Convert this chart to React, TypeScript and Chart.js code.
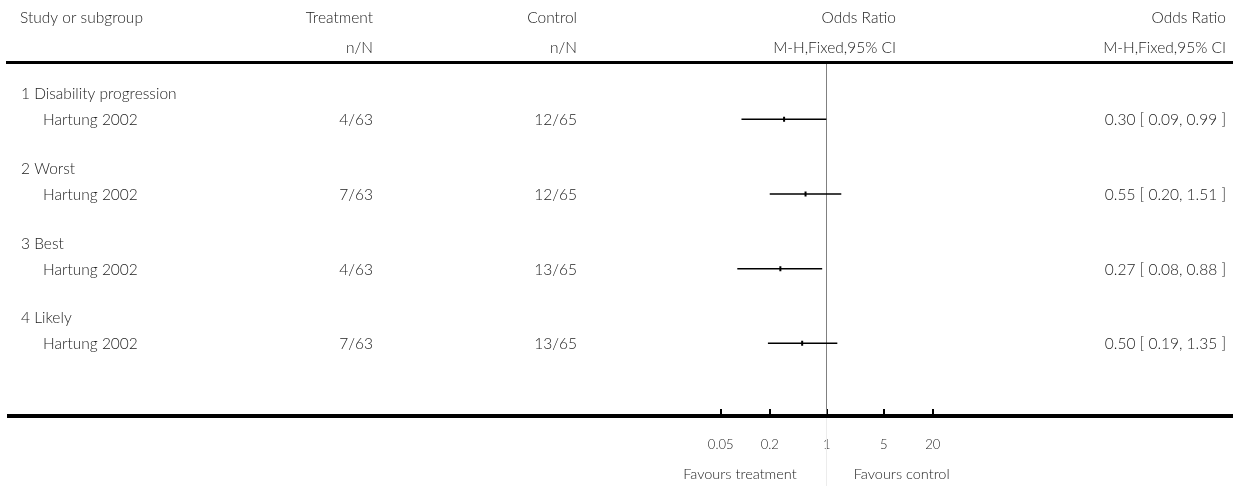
import React, { useEffect, useRef } from 'react';
import { Chart, registerables } from 'chart.js';

Chart.register(...registerables);

// ---- Data ----
const groupLabels = ['1 Disability progression', '2 Worst', '3 Best', '4 Likely'];
const studyNames = ['Hartung 2002', 'Hartung 2002', 'Hartung 2002', 'Hartung 2002'];
const treatmentCounts = ['4/63', '7/63', '4/63', '7/63'];
const controlCounts = ['12/65', '12/65', '13/65', '13/65'];
const oddsRatio = [0.3, 0.55, 0.27, 0.5];
const ciLower = [0.09, 0.2, 0.08, 0.19];
const ciUpper = [0.99, 1.51, 0.88, 1.35];
const tickValues = [0.05, 0.2, 1, 5, 20];
const tickLabels = ['0.05', '0.2', '1', '5', '20'];
const nullValue = 1;
const headerLeft = 'Study or subgroup';
const headerTreatment = ['Treatment', 'n/N'];
const headerControl = ['Control', 'n/N'];
const headerPlot = ['Odds Ratio', 'M-H,Fixed,95% CI'];
const headerEffect = ['Odds Ratio', 'M-H,Fixed,95% CI'];
const favoursLeft = 'Favours treatment';
const favoursRight = 'Favours control';

const FONT = 'Lato, "Open Sans", sans-serif';
const TEXT = '#1c1c1c';

export default function App() {
  const ref = useRef<HTMLCanvasElement>(null);

  useEffect(() => {
    const canvas = ref.current;
    if (!canvas) return;

    const ciDatasets: any[] = studyNames.map((name, i) => ({
      type: 'line',
      label: name + ' CI ' + (i + 1),
      data: [
        { x: ciLower[i], y: i },
        { x: ciUpper[i], y: i },
      ],
      borderColor: '#000',
      borderWidth: 1.5,
      pointRadius: 0,
      showLine: true,
      fill: false,
    }));

    const pointDataset: any = {
      type: 'scatter',
      label: 'Odds ratio',
      data: oddsRatio.map((v, i) => ({ x: v, y: i })),
      pointStyle: 'line',
      rotation: 90,
      pointRadius: 2.5,
      borderWidth: 2,
      borderColor: '#000',
      backgroundColor: '#000',
    };

    const fmt = (v: number) => v.toFixed(2);

    const nullLinePlugin = {
      id: 'nullLine',
      beforeDatasetsDraw(chart: any) {
        const { ctx, scales } = chart;
        const nx = Math.floor(scales.x.getPixelForValue(nullValue)) + 0.5;
        ctx.save();
        ctx.strokeStyle = '#808080';
        ctx.lineWidth = 1;
        ctx.beginPath();
        ctx.moveTo(nx, 64);
        ctx.lineTo(nx, 414);
        ctx.stroke();
        ctx.strokeStyle = '#ececec';
        ctx.beginPath();
        ctx.moveTo(nx, 418);
        ctx.lineTo(nx, 486);
        ctx.stroke();
        ctx.restore();
      },
    };

    const tablePlugin = {
      id: 'forestTable',
      afterDraw(chart: any) {
        const { ctx, scales } = chart;
        const y = scales.y;
        const x = scales.x;
        ctx.save();
        // horizontal rules
        ctx.fillStyle = '#000';
        ctx.fillRect(6, 61, 1227, 3);
        ctx.fillRect(7, 414, 1226, 4);

        ctx.fillStyle = TEXT;
        ctx.textBaseline = 'alphabetic';
        ctx.font = `300 15.5px ${FONT}`;

        // headers
        ctx.textAlign = 'left';
        ctx.fillText(headerLeft, 20, 23);
        ctx.textAlign = 'right';
        ctx.fillText(headerTreatment[0], 373, 23);
        ctx.fillText(headerTreatment[1], 373, 53);
        ctx.fillText(headerControl[0], 577, 23);
        ctx.fillText(headerControl[1], 577, 53);
        ctx.fillText(headerPlot[0], 896, 23);
        ctx.fillText(headerPlot[1], 896, 53);
        ctx.fillText(headerEffect[0], 1226, 23);
        ctx.fillText(headerEffect[1], 1226, 53);

        // rows
        groupLabels.forEach((g, i) => {
          const ry = y.getPixelForValue(i);
          ctx.textAlign = 'left';
          ctx.fillText(g, 21, ry - 20);
          ctx.fillText(studyNames[i], 43, ry + 6);
          ctx.textAlign = 'right';
          ctx.fillText(treatmentCounts[i], 373, ry + 6);
          ctx.fillText(controlCounts[i], 577, ry + 6);
          ctx.fillText(
            `${fmt(oddsRatio[i])} [ ${fmt(ciLower[i])}, ${fmt(ciUpper[i])} ]`,
            1226,
            ry + 6
          );
        });

        // favours labels
        const nx = x.getPixelForValue(nullValue);
        ctx.font = `300 14.5px ${FONT}`;
        ctx.textAlign = 'right';
        ctx.fillText(favoursLeft, nx - 30, 479);
        ctx.textAlign = 'left';
        ctx.fillText(favoursRight, nx + 27, 479);
        ctx.restore();
      },
    };

    const chart = new Chart(canvas, {
      type: 'scatter',
      data: { datasets: [...ciDatasets, pointDataset] },
      options: {
        animation: false,
        responsive: false,
        devicePixelRatio: 1,
        layout: { padding: { left: 663.7, right: 249.3, top: 64, bottom: 0 } },
        plugins: {
          legend: { display: false },
          tooltip: { enabled: false },
        },
        scales: {
          x: {
            type: 'logarithmic',
            min: 0.01,
            max: 100,
            position: 'bottom',
            afterBuildTicks: (s: any) => {
              s.ticks = tickValues.map((v) => ({ value: v }));
            },
            afterFit: (s: any) => {
              s.height = 77;
            },
            ticks: {
              autoSkip: false,
              maxRotation: 0,
              minRotation: 0,
              color: TEXT,
              padding: 23,
              font: { family: FONT, size: 13, weight: '300' },
              callback: (v: any) => {
                const idx = tickValues.indexOf(Number(v));
                return idx >= 0 ? tickLabels[idx] : '';
              },
            },
            grid: {
              drawOnChartArea: false,
              drawTicks: true,
              tickLength: 5,
              color: '#000',
              lineWidth: 2,
            },
            border: { display: false },
          },
          y: {
            type: 'linear',
            display: false,
            reverse: true,
            min: -0.7406,
            max: 3.88,
          },
        },
      } as any,
      plugins: [nullLinePlugin, tablePlugin],
    });

    return () => chart.destroy();
  }, []);

  return (
    <div style={{ position: 'absolute', left: 0, top: 0, width: 1239, height: 486, background: '#fff' }}>
      <canvas ref={ref} width={1239} height={486} style={{ display: 'block', width: 1239, height: 486 }} />
    </div>
  );
}
